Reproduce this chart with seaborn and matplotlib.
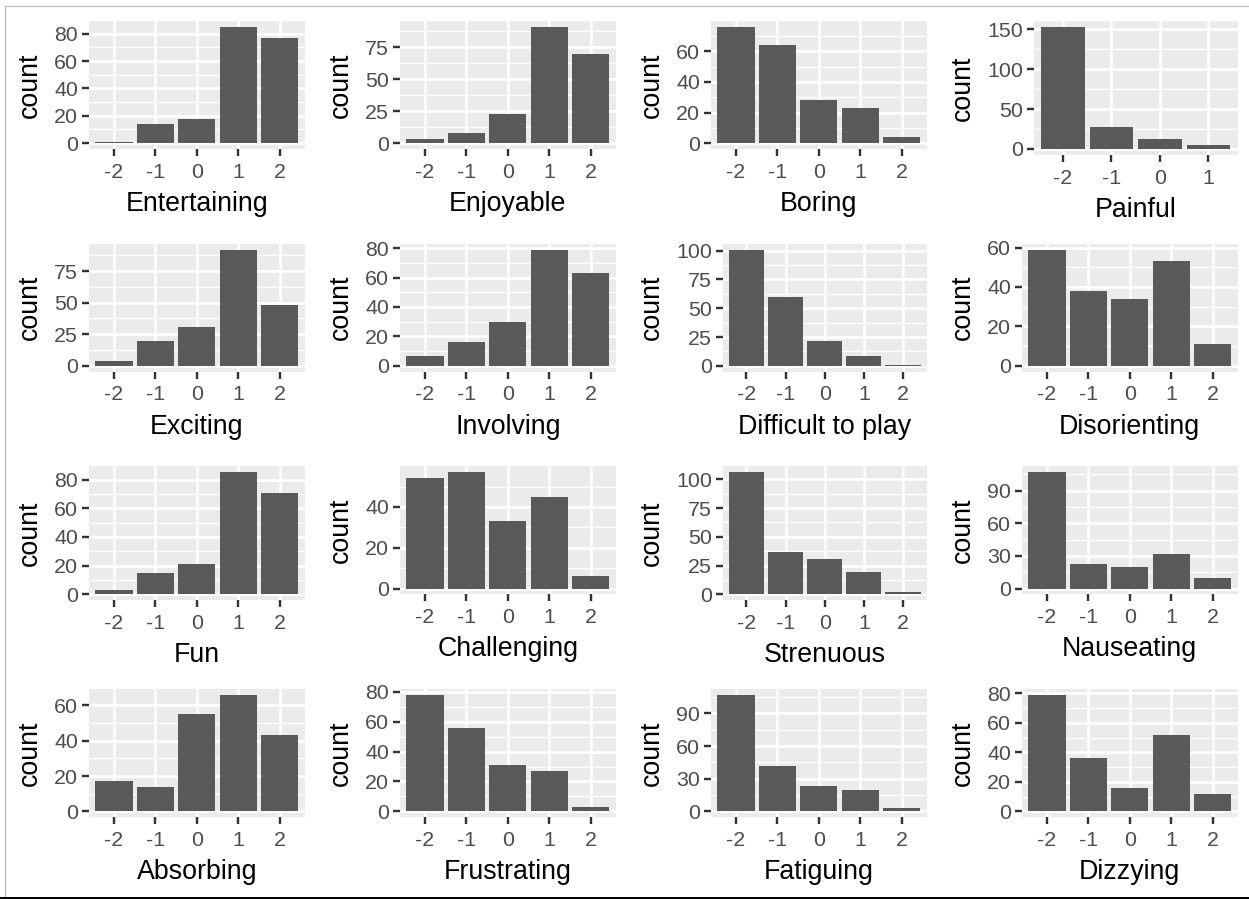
import matplotlib
matplotlib.use("Agg")
import matplotlib.pyplot as plt
from matplotlib.lines import Line2D
import numpy as np
import pandas as pd
import seaborn as sns

# Response levels of the rating scale
levels = ["-2", "-1", "0", "1", "2"]
painful_levels = ["-2", "-1", "0", "1"]

# Counts of responses per level, one list per item
entertaining = [1, 14, 18, 85, 77]
enjoyable = [3, 8, 23, 91, 70]
boring = [76, 64, 28, 23, 4]
painful = [153, 27, 12, 5]
exciting = [4, 20, 31, 92, 48]
involving = [7, 16, 30, 79, 63]
difficult = [101, 60, 22, 9, 1]
disorienting = [59, 38, 34, 53, 11]
fun = [3, 15, 21, 85, 71]
challenging = [54, 57, 33, 45, 6]
strenuous = [106, 37, 31, 19, 2]
nauseating = [107, 23, 20, 32, 10]
absorbing = [17, 14, 55, 66, 43]
frustrating = [78, 56, 31, 27, 3]
fatiguing = [107, 42, 23, 20, 3]
dizzying = [79, 36, 16, 52, 12]

# Item names (x-axis titles) and y break steps
items = ["Entertaining", "Enjoyable", "Boring", "Painful",
         "Exciting", "Involving", "Difficult to play", "Disorienting",
         "Fun", "Challenging", "Strenuous", "Nauseating",
         "Absorbing", "Frustrating", "Fatiguing", "Dizzying"]
item_levels = [levels, levels, levels, painful_levels] + [levels] * 12
item_counts = [entertaining, enjoyable, boring, painful,
               exciting, involving, difficult, disorienting,
               fun, challenging, strenuous, nauseating,
               absorbing, frustrating, fatiguing, dizzying]
y_steps = [20, 25, 20, 50,
           25, 20, 25, 20,
           20, 20, 25, 30,
           20, 20, 30, 20]

sns.set_theme(style="darkgrid")
plt.rcParams["font.family"] = ["Liberation Sans", "DejaVu Sans"]

DPI = 144
W, H = 1249, 899
fig = plt.figure(figsize=(W / DPI, H / DPI), dpi=DPI, facecolor="white")

BAR = "#595959"
PANEL_BG = "#EBEBEB"
TITLE_SIZE = 13.4
TICK_SIZE = 10.7
DIGIT_PX = 11.9

for i, (name, cats, counts, step) in enumerate(zip(items, item_levels, item_counts, y_steps)):
    r, c = divmod(i, 4)
    top_px = 21 + r * 222.7
    has_desc = any(ch in name for ch in "gjpqy")
    bottom_px = top_px + (128 if has_desc else 134)
    cmax = max(counts)
    ymin, ymax = -0.05 * cmax, 1.05 * cmax
    majors = np.arange(0, ymax + 1e-9, step)
    minors = np.arange(step / 2, ymax, step)
    ndig = len(str(int(majors[-1])))
    x0 = 5 + c * 311
    left_px = x0 + 84 + DIGIT_PX * (ndig - 2)
    right_px = x0 + 299.5
    pw, ph = right_px - left_px, bottom_px - top_px

    ax = fig.add_axes([left_px / W, 1 - bottom_px / H, pw / W, ph / H])
    df = pd.DataFrame({"level": cats, "count": counts})
    sns.barplot(data=df, x="level", y="count", order=cats, color=BAR,
                saturation=1, width=0.9, errorbar=None, linewidth=0, ax=ax)

    ax.set_xlim(-0.6, len(cats) - 0.4)
    ax.set_ylim(ymin, ymax)
    ax.set_yticks(majors)
    ax.set_yticklabels([str(int(v)) for v in majors])
    ax.set_yticks(minors, minor=True)

    ax.set_facecolor(PANEL_BG)
    ax.set_axisbelow(True)
    ax.grid(False)
    ax.xaxis.grid(True, which="major", color="white", linewidth=1.3)
    ax.yaxis.grid(True, which="major", color="white", linewidth=1.3)
    ax.yaxis.grid(True, which="minor", color="white", linewidth=0.65)
    for s in ax.spines.values():
        s.set_visible(False)

    ax.tick_params(which="major", length=3.3, width=1.2, color="#333333",
                   labelcolor="#4D4D4D", labelsize=TICK_SIZE)
    ax.tick_params(axis="y", which="major", pad=2.2, left=True)
    ax.tick_params(axis="x", which="major", pad=3.6, bottom=True)
    ax.tick_params(which="minor", length=0)

    ax.set_xlabel(name, fontsize=TITLE_SIZE, color="black")
    ax.set_ylabel("count", fontsize=TITLE_SIZE, color="black")
    ax.xaxis.set_label_coords(0.5, -55 / ph)
    ax.xaxis.label.set_va("center")
    ax.yaxis.set_label_coords(-(left_px - (x0 + 25)) / pw, 0.5)
    ax.yaxis.label.set_va("center")

# Outer frame lines of the figure
fig.add_artist(Line2D([5 / W, 1], [1 - 6 / H, 1 - 6 / H], color="#B8B8B8", lw=0.6))
fig.add_artist(Line2D([5 / W, 5 / W], [1 - 6 / H, 1 - 896 / H], color="#B8B8B8", lw=0.6))
fig.add_artist(Line2D([0, 1], [1 - 897.5 / H, 1 - 897.5 / H], color="black", lw=1.5))

fig.savefig("out.png", dpi=DPI, facecolor="white")
